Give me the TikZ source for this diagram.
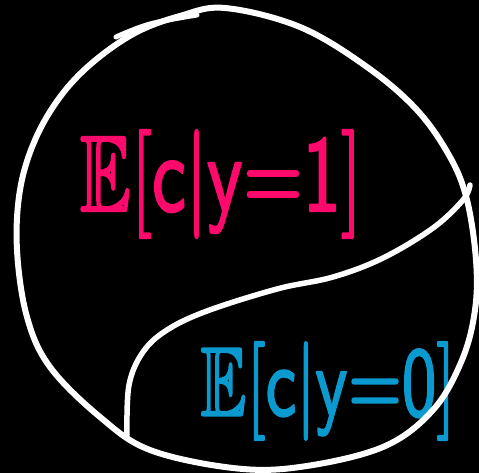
\documentclass[tikz,border=0pt]{standalone}
\usepackage{amssymb}
\usepackage{graphicx}
\definecolor{pinkink}{HTML}{FF0A6C}
\definecolor{blueink}{HTML}{0A9AD0}
\newcommand{\inkstroke}[1]{\special{pdf:literal 2 Tr 0.22 w 1 J 1 j}#1\special{pdf:literal 0 Tr}}
\tikzset{
  chalk/.style={draw=white, line width=6pt, line cap=round, line join=round},
  label/.style={inner sep=0pt, anchor=center}
}
\begin{document}
\begin{tikzpicture}[x=1pt,y=-1pt]
\fill[black] (0,0) rectangle (479,473);
\useasboundingbox (0,0) rectangle (479,473);
% labels
\node[label, text=pinkink] (ey1) at (221,184)
  {\resizebox*{282pt}{108pt}{\inkstroke{$\mathbb{E}[\mathsf{c}|\mathsf{y}{=}\mathsf{1}]$}}};
\node[label, text=blueink] (ey0) at (328,391)
  {\resizebox*{255pt}{98pt}{\inkstroke{$\mathbb{E}[\mathsf{c}|\mathsf{y}{=}\mathsf{0}]$}}};
% outer hand-drawn circle
\draw[chalk] plot[smooth cycle, tension=0.6] coordinates {
 (225,8) (300,27) (367,67) (417,110) (450,157) (467,200) (476,260)
 (475,310) (462,360) (433,410) (383,447) (300,467) (233,468)
 (150,450) (100,417) (50,367) (27,317) (17,250) (20,190) (35,140)
 (60,97) (92,63) (135,33) (180,16)};
% extra overlapping stroke at top
\draw[chalk, line width=5pt] plot[smooth, tension=0.6] coordinates {(116,37) (150,24) (197,15)};
% dividing curve
\draw[chalk, line width=5.5pt] plot[smooth, tension=0.6] coordinates {
 (127,435) (129,385) (143,352) (167,330) (207,311) (277,289) (333,277)
 (383,258) (433,228) (463,200) (470,185)};
\end{tikzpicture}
\end{document}
